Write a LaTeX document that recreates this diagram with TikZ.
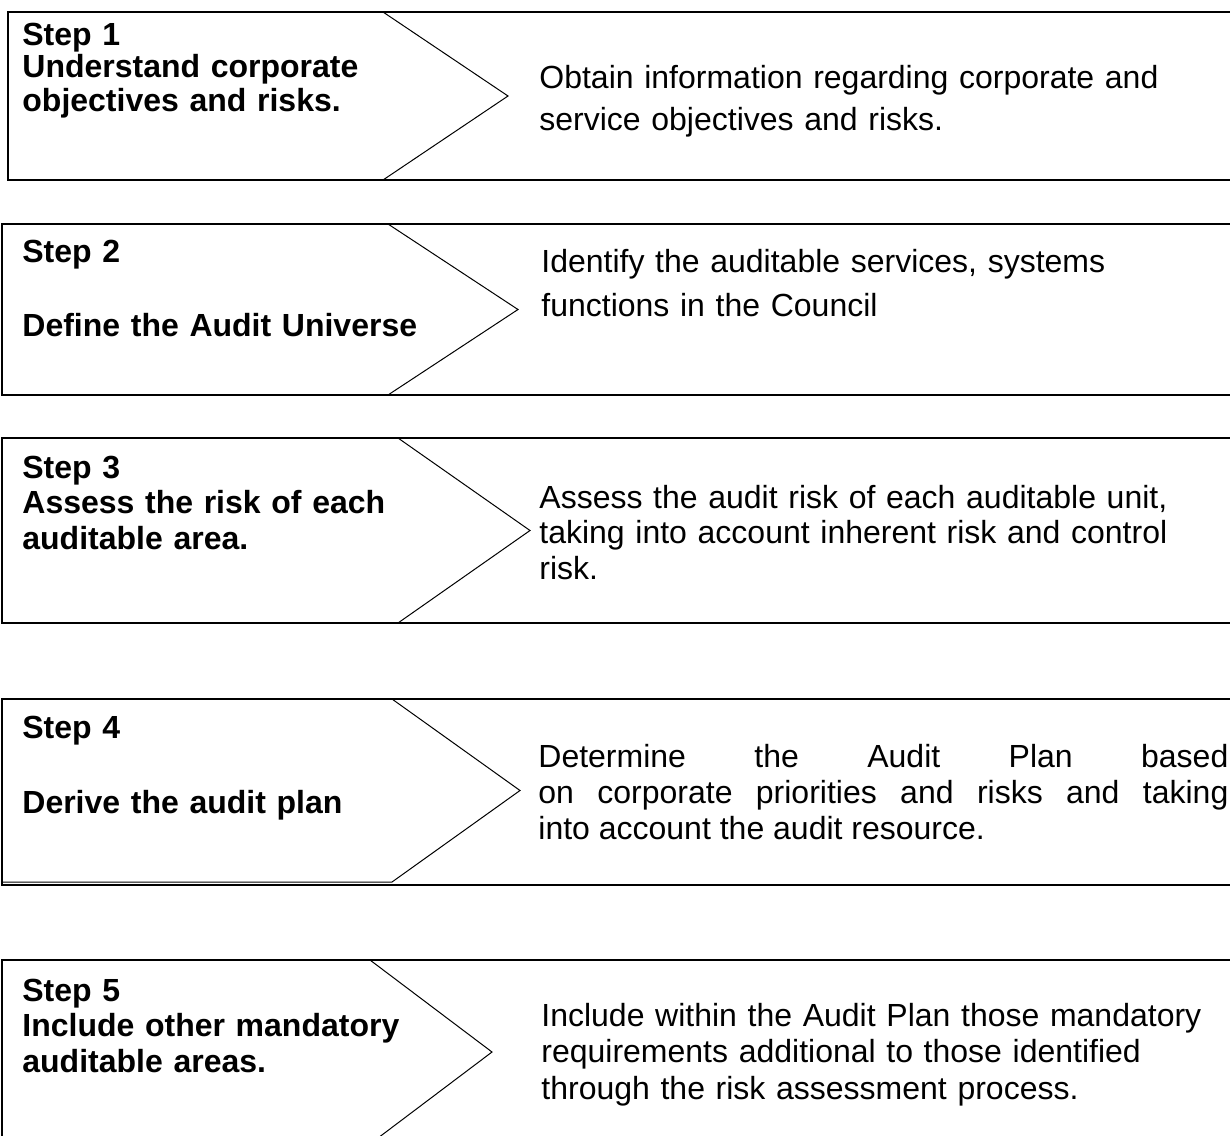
\documentclass[tikz,border=0pt]{standalone}
\usepackage{fontspec}
\setmainfont{Liberation Sans}

\begin{document}
\begin{tikzpicture}[x=0.5pt,y=-0.5pt,
	frame/.style={line width=1pt},
	chevron/.style={line width=0.5pt, line join=miter},
	steptitle/.style={anchor=base west, inner sep=0pt, text width=245pt, align=left, font=\bfseries\fontsize{16}{#1}\selectfont},
	steptitle/.default=16.5pt,
	stepnote/.style={anchor=base west, inner sep=0pt, text width=345pt, align=left, font=\fontsize{16}{#1}\selectfont},
	stepnote/.default=18pt]
				\useasboundingbox (0,0) rectangle (1230,1135);
				\clip (0,0) rectangle (1230,1135);
				\begin{scope}
					\draw[chevron] (8,12) -- (383,12) -- (508,96) -- (383,180) -- (8,180); % step 1
					\draw[frame] (8,12) rectangle (1240,180);
					\node[steptitle] (t1) at (22,45) {Step 1\\Understand corporate\\objectives and risks.};
					\node[stepnote=21pt] (n1) at (539,88) {Obtain information regarding corporate and\\service objectives and risks.};

					\draw[chevron] (2,224) -- (388,224) -- (518,309.5) -- (388,395) -- (2,395); % step 2
					\draw[frame] (2,224) rectangle (1240,395);
					\node[steptitle] (t2) at (22,262) {Step 2\\[20.5pt]Define the Audit Universe};
					\node[stepnote=22pt] (n2) at (541,272) {Identify the auditable services, systems\\functions in the Council};

					\draw[chevron] (2,438) -- (398,438) -- (530,530.5) -- (398,623) -- (2,623); % step 3
					\draw[frame] (2,438) rectangle (1240,623);
					\node[steptitle=17.75pt] (t3) at (22,478) {Step 3\\Assess the risk of each\\auditable area.};
					\node[stepnote=17.75pt] (n3) at (539,508) {Assess the audit risk of each auditable unit,\\taking into account inherent risk and control\\risk.};

					\draw[chevron] (2,699) -- (392,699) -- (520,790.5) -- (392,882) -- (2,882); % step 4
					\draw[frame] (2,699) rectangle (1240,885);
					\node[steptitle] (t4) at (22,738) {Step 4\\[21pt]Derive the audit plan};
					\node[stepnote, align=justify] (n4) at (538,767) {Determine the Audit Plan based\linebreak on corporate priorities and risks and taking\linebreak into account the audit resource.};

					\draw[chevron] (2,960) -- (370,960) -- (492,1052) -- (370,1144) -- (2,1144); % step 5
					\draw[frame] (2,960) rectangle (1240,1144);
					\node[steptitle=17.75pt] (t5) at (22,1001) {Step 5\\Include other mandatory\\auditable areas.};
					\node[stepnote=18.25pt] (n5) at (541,1026) {Include within the Audit Plan those mandatory\\requirements additional to those identified\\through the risk assessment process.};
				\end{scope}
			\end{tikzpicture}
\end{document}
